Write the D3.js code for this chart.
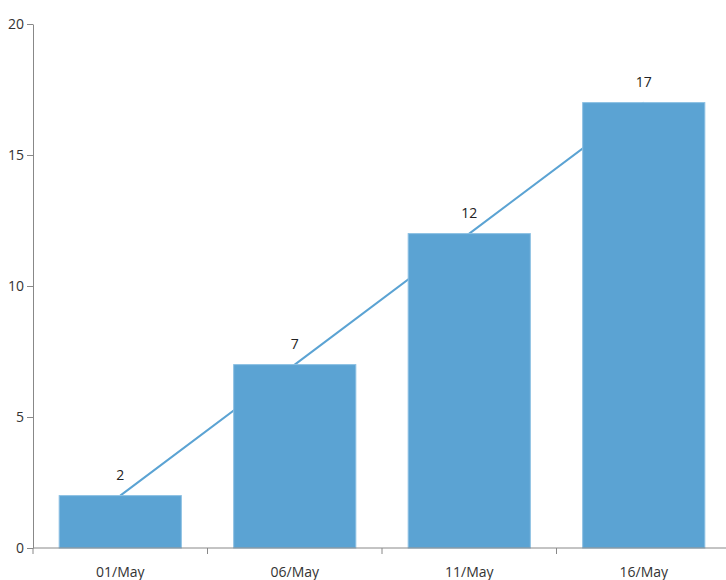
<!DOCTYPE html>
<html>
<head>
<meta charset="utf-8">
<script src="https://cdn.jsdelivr.net/npm/d3@7"></script>
<style>
  body { margin: 0; background: #fff; }
  text { font-family: "Open Sans", "Noto Sans", sans-serif; }
</style>
</head>
<body>
<div id="chart"></div>
<script>
const categories = ["01/May", "06/May", "11/May", "16/May"];
const values = [2, 7, 12, 17];
const yTicks = [0, 5, 10, 15, 20];

const width = 726, height = 580;
const margin = {top: 24, right: -5, bottom: 32, left: 33};

const svg = d3.select("#chart").append("svg")
    .attr("width", width)
    .attr("height", height);

const x = d3.scaleBand()
    .domain(categories)
    .range([margin.left, width - margin.right])
    .paddingInner(0.3)
    .paddingOuter(0.15);

const y = d3.scaleLinear()
    .domain([0, 20])
    .range([height - margin.bottom, margin.top]);

// line behind bars
const line = d3.line()
    .x((d, i) => x(categories[i]) + x.bandwidth() / 2)
    .y(d => y(d));

svg.append("path")
    .datum(values)
    .attr("fill", "none")
    .attr("stroke", "#5ba3d3")
    .attr("stroke-width", 2)
    .attr("d", line);

svg.selectAll("rect.bar")
    .data(values)
    .join("rect")
    .attr("class", "bar")
    .attr("x", (d, i) => x(categories[i]))
    .attr("y", d => y(d))
    .attr("width", x.bandwidth())
    .attr("height", d => y(0) - y(d))
    .attr("fill", "#5ba3d3")
    .attr("stroke", "#8cc0e3")
    .attr("stroke-width", 1);

svg.selectAll("text.label")
    .data(values)
    .join("text")
    .attr("class", "label")
    .attr("x", (d, i) => x(categories[i]) + x.bandwidth() / 2)
    .attr("y", d => y(d) - 16)
    .attr("text-anchor", "middle")
    .attr("font-size", 14)
    .attr("fill", "#222")
    .text(d => d);

// y axis
const yAxis = svg.append("g")
    .attr("transform", `translate(${margin.left},0)`)
    .call(d3.axisLeft(y).tickValues(yTicks).tickSize(6).tickSizeOuter(0));

// x axis with ticks at band boundaries
const step = x.step();
const xStart = margin.left;
const boundaries = d3.range(categories.length).map(i => xStart + i * step);

const xAxis = svg.append("g")
    .attr("transform", `translate(0,${y(0)})`);
xAxis.append("line")
    .attr("x1", margin.left).attr("x2", width)
    .attr("stroke", "#888");
xAxis.selectAll("line.tick")
    .data(boundaries)
    .join("line")
    .attr("class", "tick")
    .attr("x1", d => d).attr("x2", d => d)
    .attr("y1", 0).attr("y2", 6)
    .attr("stroke", "#888");
xAxis.selectAll("text")
    .data(categories)
    .join("text")
    .attr("x", d => x(d) + x.bandwidth() / 2)
    .attr("y", 29)
    .attr("text-anchor", "middle")
    .attr("font-size", 14)
    .attr("fill", "#333")
    .text(d => d);

yAxis.select(".domain").attr("stroke", "#888");
yAxis.selectAll(".tick line").attr("stroke", "#888");
yAxis.selectAll(".tick text")
    .attr("font-size", 14)
    .attr("fill", "#333")
    .attr("x", -9);
</script>
</body>
</html>
